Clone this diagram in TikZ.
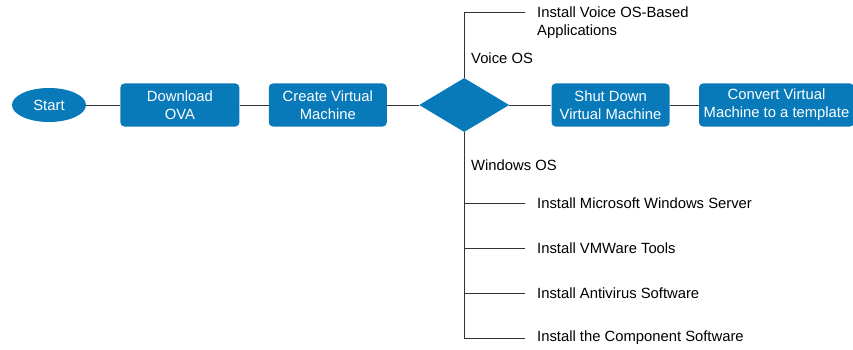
\documentclass[tikz,border=0pt]{standalone}
\usepackage{fontspec}
\setmainfont{Liberation Sans}
\usetikzlibrary{shapes.geometric,positioning}

\definecolor{ciscoblue}{RGB}{8,122,186}

\tikzstyle{startstop} = [ellipse, minimum width=74pt, minimum height=34pt, inner sep=0pt, fill=ciscoblue, text=white]
\tikzstyle{process} = [rectangle, rounded corners=4pt, minimum width=118pt, minimum height=43pt, inner sep=0pt, align=center, fill=ciscoblue, text=white]
\tikzstyle{decision} = [diamond, aspect=1.667, minimum width=90pt, minimum height=54pt, inner sep=0pt, fill=ciscoblue]
\tikzstyle{task} = [anchor=west, inner sep=0pt, align=left]
\tikzstyle{branch} = [anchor=west, inner sep=0pt]
\tikzstyle{link} = [draw=black!80, line width=0.8pt]

\begin{document}
\begin{tikzpicture}[x=1pt, y=-1pt, font=\fontsize{14.8pt}{18pt}\selectfont]

	\useasboundingbox (0,0) rectangle (853,350);

	\node (start) [startstop] at (49,105) {Start};
	\node (download) [process, minimum width=119pt, right=34pt of start] {Download\\OVA};
	\node (create) [process, right=29pt of download] {Create Virtual\\Machine};
	\node (os) [decision, right=32pt of create] {};
	\node (shutdown) [process, right=42pt of os] {Shut Down\\Virtual Machine};
	\node (template) [process, minimum width=155pt, right=29pt of shutdown] {Convert Virtual\\Machine to a template};

	\node (voice) [branch] at (471,58) {Voice OS};
	\node (windows) [branch] at (471,165) {Windows OS};

	\node (voiceapps) [task] at (537,22.5) {Install Voice OS-Based\\Applications};
	\node (winserver) [task] at (537,203) {Install Microsoft Windows Server};
	\node (vmtools) [task] at (537,248) {Install VMWare Tools};
	\node (antivirus) [task] at (537,293) {Install Antivirus Software};
	\node (component) [task] at (537,338) {Install the Component Software};

	\draw [link] (start) -- (download);
	\draw [link] (download) -- (create);
	\draw [link] (create) -- (os);
	\draw [link] (os) -- (shutdown);
	\draw [link] (shutdown) -- (template);

	\draw [link, shorten >=12pt] (os.north) |- ([yshift=10.5pt]voiceapps.west);
	\draw [link, shorten >=12pt] (os.south) |- (component.west);
	\draw [link, shorten >=12pt] (os.south |- winserver.west) -- (winserver.west);
	\draw [link, shorten >=12pt] (os.south |- vmtools.west) -- (vmtools.west);
	\draw [link, shorten >=12pt] (os.south |- antivirus.west) -- (antivirus.west);

\end{tikzpicture}
\end{document}
